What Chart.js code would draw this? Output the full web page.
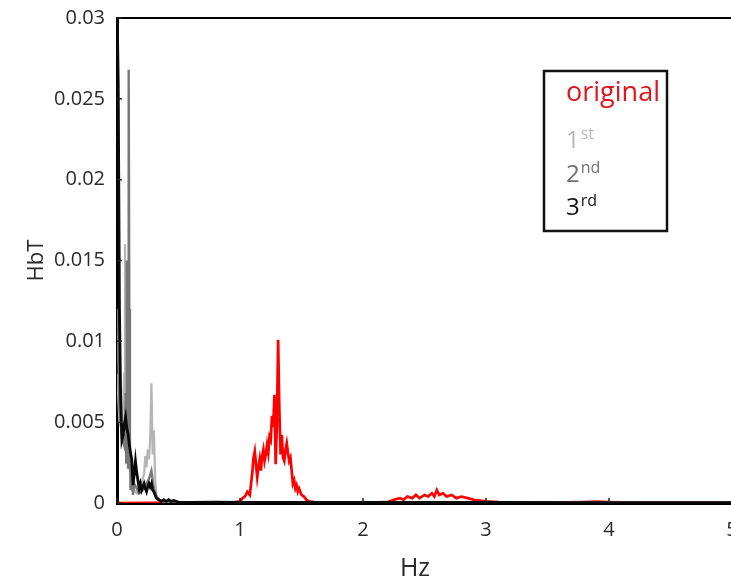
<!DOCTYPE html>
<html>
<head>
<meta charset="utf-8">
<script src="https://cdn.jsdelivr.net/npm/chart.js@4"></script>
<style>
html,body{margin:0;padding:0;background:#fff;overflow:hidden;width:731px;height:578px;}
canvas{display:block;}
</style>
</head>
<body>
<canvas id="c" width="760" height="578" style="width:760px;height:578px"></canvas>
<script>
// ---- data ----
const xTickLabels = ['0','1','2','3','4','5'];
const yTickLabels = ['0','0.005','0.01','0.015','0.02','0.025','0.03'];
const seriesNames = ['original','1st','2nd','3rd'];
const xTitle = 'Hz';
const yTitle = 'HbT';

const freqOriginal = [0,0.5,0.9,0.96,1.0,1.02,1.04,1.06,1.08,1.09,1.1,1.11,1.12,1.13,1.14,1.15,1.16,1.17,1.18,1.19,1.2,1.21,1.22,1.23,1.24,1.25,1.26,1.27,1.28,1.29,1.3,1.31,1.32,1.33,1.34,1.35,1.36,1.37,1.38,1.39,1.4,1.41,1.42,1.43,1.44,1.45,1.46,1.47,1.48,1.5,1.52,1.54,1.56,1.6,1.8,2.0,2.2,2.25,2.3,2.33,2.36,2.4,2.43,2.46,2.5,2.53,2.56,2.58,2.6,2.62,2.65,2.68,2.72,2.76,2.8,2.85,2.9,2.95,3.0,3.1,3.5,3.8,3.9,4.0,4.2,5.0];
const valOriginal  = [0,0.00002,0.00003,0.00005,0.0001,0.0003,0.0004,0.0007,0.0005,0.0012,0.0019,0.0028,0.0032,0.0024,0.0016,0.0022,0.0027,0.0020,0.0029,0.0033,0.0026,0.0030,0.0036,0.0031,0.0041,0.0039,0.0054,0.0047,0.0067,0.0024,0.0049,0.0101,0.0058,0.0030,0.0042,0.0028,0.0026,0.0033,0.0037,0.0031,0.0026,0.0028,0.0020,0.0012,0.0014,0.0009,0.0011,0.0007,0.0009,0.0005,0.0004,0.0002,0.0001,0.00005,0.00003,0.00002,0.00005,0.0002,0.0003,0.0002,0.0004,0.0003,0.0005,0.0003,0.0005,0.0004,0.0006,0.0004,0.0008,0.0005,0.0006,0.0004,0.0005,0.0003,0.0004,0.0003,0.0002,0.00015,0.0001,0.00005,0.00003,0.00006,0.00008,0.00005,0.00002,0.00002];

const freq1st = [0,0.02,0.04,0.06,0.065,0.07,0.075,0.08,0.09,0.1,0.12,0.14,0.16,0.18,0.2,0.22,0.23,0.24,0.25,0.26,0.27,0.28,0.29,0.3,0.31,0.32,0.34,0.38,0.5,1,5];
const val1st  = [0.008,0.005,0.0045,0.008,0.016,0.0066,0.012,0.0055,0.003,0.0022,0.0014,0.0008,0.0006,0.0008,0.0012,0.0018,0.0029,0.0022,0.0033,0.0027,0.0040,0.0074,0.0030,0.0045,0.0015,0.0005,0.0002,0.0001,0.00003,0.00002,0.00002];

const freq2nd = [0,0.02,0.04,0.06,0.07,0.075,0.08,0.085,0.09,0.095,0.1,0.105,0.11,0.12,0.13,0.14,0.16,0.18,0.2,0.22,0.24,0.26,0.28,0.29,0.3,0.31,0.32,0.34,0.36,0.4,0.5,1,5];
const val2nd  = [0.012,0.006,0.004,0.0035,0.0068,0.0025,0.015,0.009,0.0022,0.0268,0.012,0.004,0.0008,0.0015,0.0005,0.0012,0.0009,0.0006,0.0007,0.0009,0.0012,0.0015,0.0020,0.0014,0.0009,0.0006,0.0004,0.0002,0.0001,0.00005,0.00003,0.00002,0.00002];

const freq3rd = [0,0.005,0.01,0.02,0.03,0.04,0.05,0.06,0.07,0.08,0.09,0.1,0.11,0.12,0.13,0.14,0.15,0.16,0.17,0.18,0.19,0.2,0.21,0.22,0.23,0.24,0.25,0.26,0.27,0.28,0.29,0.3,0.31,0.32,0.34,0.36,0.38,0.4,0.42,0.44,0.46,0.5,0.6,0.8,1.0,1.5,2.0,3.0,4.0,5.0];
const val3rd  = [0.031,0.031,0.026,0.012,0.0064,0.0039,0.0042,0.0049,0.0053,0.0046,0.0043,0.0036,0.0031,0.0027,0.0011,0.0018,0.0026,0.0019,0.0014,0.0009,0.0012,0.0008,0.0010,0.0012,0.0009,0.0007,0.0010,0.0012,0.0010,0.0012,0.0008,0.0007,0.0005,0.0003,0.0002,0.0001,0.0002,0.0001,0.0002,0.0001,0.00015,0.00005,0.00004,0.00005,0.00003,0.00004,0.00003,0.00003,0.00002,0.00002];

const pts = (fx, vy) => fx.map((f, i) => ({x: f, y: vy[i]}));

const FONT = "'Open Sans', 'DejaVu Sans', sans-serif";

// frame + inward ticks + axis title + legend box
const framePlugin = {
  id: 'frame',
  afterDraw(chart) {
    const {ctx, chartArea: a, scales: {x, y}} = chart;
    ctx.save();
    ctx.strokeStyle = '#000';
    ctx.lineWidth = 2;
    ctx.beginPath();
    ctx.moveTo(a.left, a.top); ctx.lineTo(a.right, a.top);
    ctx.moveTo(a.right, a.top); ctx.lineTo(a.right, a.bottom);
    ctx.stroke();
    ctx.lineWidth = 1.5;
    ctx.strokeStyle = '#222';
    ctx.beginPath();
    x.ticks.forEach(t => { const px = x.getPixelForValue(t.value); ctx.moveTo(px, a.bottom); ctx.lineTo(px, a.bottom - 5); });
    y.ticks.forEach(t => { const py = y.getPixelForValue(t.value); ctx.moveTo(a.left, py); ctx.lineTo(a.left + 5, py); });
    ctx.stroke();

    // x axis title
    ctx.fillStyle = '#2a2a2a';
    ctx.font = "25px " + FONT;
    ctx.textAlign = 'center';
    ctx.textBaseline = 'alphabetic';
    ctx.fillText(xTitle, 415, 576);

    // legend
    const bx = 544, by = 71, bw = 123, bh = 160;
    ctx.fillStyle = '#fff';
    ctx.fillRect(bx, by, bw, bh);
    ctx.lineWidth = 2.5;
    ctx.strokeStyle = '#111';
    ctx.strokeRect(bx, by, bw, bh);
    ctx.textAlign = 'left';
    ctx.fillStyle = '#e0141e';
    ctx.font = "27px " + FONT;
    ctx.fillText(seriesNames[0], 566, 101);
    const rows = [
      {num: '1', sup: 'st', color: '#b8b8b8', base: 148},
      {num: '2', sup: 'nd', color: '#707070', base: 182},
      {num: '3', sup: 'rd', color: '#111111', base: 215}
    ];
    rows.forEach(r => {
      ctx.fillStyle = r.color;
      ctx.font = "24px " + FONT;
      ctx.fillText(r.num, 566, r.base);
      const w = ctx.measureText(r.num).width;
      ctx.font = "16px " + FONT;
      ctx.fillText(r.sup, 566 + w + 1, r.base - 9);
    });
    ctx.restore();
  }
};

new Chart(document.getElementById('c'), {
  type: 'scatter',
  data: {
    datasets: [
      {label: seriesNames[3], data: pts(freq3rd, val3rd), borderColor: '#0a0a0a', borderWidth: 2.8, order: 0},
      {label: seriesNames[2], data: pts(freq2nd, val2nd), borderColor: '#777777', borderWidth: 2.4, order: 1},
      {label: seriesNames[1], data: pts(freq1st, val1st), borderColor: '#b5b5b5', borderWidth: 2.2, order: 2},
      {label: seriesNames[0], data: pts(freqOriginal, valOriginal), borderColor: '#ff0000', borderWidth: 2.7, order: 3}
    ].map(d => Object.assign(d, {showLine: true, pointRadius: 0, pointHoverRadius: 0, tension: 0, fill: false}))
  },
  options: {
    responsive: false,
    animation: false,
    events: [],
    layout: {padding: {top: 18, right: 28, left: 0, bottom: 0}},
    plugins: {legend: {display: false}, tooltip: {enabled: false}},
    scales: {
      x: {
        type: 'linear', min: 0, max: 5,
        afterFit: s => { s.height = 75; },
        grid: {display: false},
        border: {display: true, color: '#000', width: 3},
        ticks: {stepSize: 1, color: '#2a2a2a', font: {family: FONT, size: 20}, padding: 7,
          callback: v => xTickLabels[Math.round(v)] ?? ''},
        title: {display: false}
      },
      y: {
        type: 'linear', min: 0, max: 0.03,
        afterFit: s => { s.width = 117; },
        grid: {display: false},
        border: {display: true, color: '#000', width: 3},
        ticks: {stepSize: 0.005, color: '#2a2a2a', font: {family: FONT, size: 20}, padding: 4,
          callback: v => yTickLabels[Math.round(v / 0.005)] ?? ''},
        title: {display: true, text: yTitle, color: '#2a2a2a', font: {family: FONT, size: 22}, padding: {top: 24, bottom: 0}}
      }
    }
  },
  plugins: [framePlugin]
});
</script>
</body>
</html>
